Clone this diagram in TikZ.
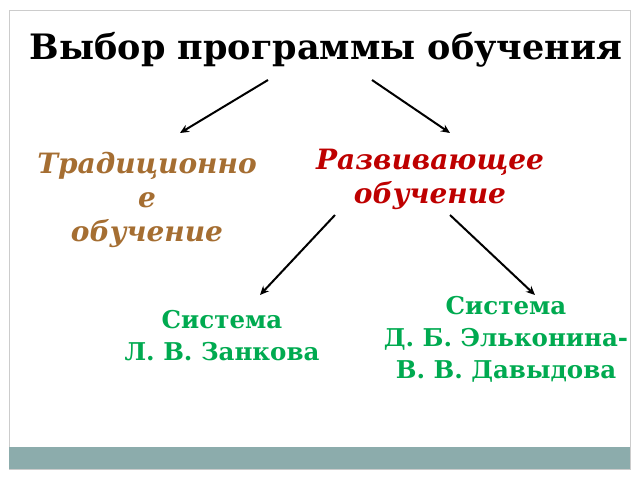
\documentclass[tikz,border=0pt]{standalone}
\usepackage{fontspec}
\setmainfont{DejaVu Serif}
\usetikzlibrary{arrows.meta,positioning}
\definecolor{brownish}{RGB}{165,110,50}
\definecolor{redish}{RGB}{190,0,0}
\definecolor{greenish}{RGB}{0,170,80}
\definecolor{barteal}{RGB}{140,172,172}
\begin{document}
\begin{tikzpicture}[
    x=1pt, y=-1pt,
    title/.style={font=\fontsize{35}{40}\selectfont\bfseries, align=center},
    branch/.style={font=\fontsize{28}{34}\selectfont\bfseries\itshape, align=center},
    system/.style={font=\fontsize{24.5}{32}\selectfont\bfseries, text=greenish, align=center},
    arrow/.style={line width=2pt,-{Stealth[length=9pt,width=8pt]}}
]
\useasboundingbox (0,0) rectangle (640,480);

% Frame and bottom bar
\draw[gray!40] (9,10) rectangle (630,469);
\fill[barteal] (9,447) rectangle (630,469);

% Title
\node (title) [title] at (326,50) {Выбор программы обучения};

% Branches
\node (trad) [branch, text=brownish] at (147,200) {Традиционно\\е\\обучение};
\node (dev) [branch, text=redish] at (430,179) {Развивающее\\обучение};

% Systems
\node (zankov) [system] at (222,336) {Система\\Л. В. Занкова};
\node (elkonin) [system] at (506,339) {Система\\Д. Б. Эльконина-\\В. В. Давыдова};

% Arrows
\coordinate (t1) at (268,80);
\coordinate (t2) at (372,80);
\coordinate (d1) at (335,215);
\coordinate (d2) at (450,215);
\coordinate (a1) at (180,133);
\coordinate (a2) at (450,133);
\coordinate (a3) at (260,295);
\coordinate (a4) at (535,295);
\draw [arrow] (t1) -- (a1);
\draw [arrow] (t2) -- (a2);
\draw [arrow] (d1) -- (a3);
\draw [arrow] (d2) -- (a4);

\end{tikzpicture}
\end{document}
